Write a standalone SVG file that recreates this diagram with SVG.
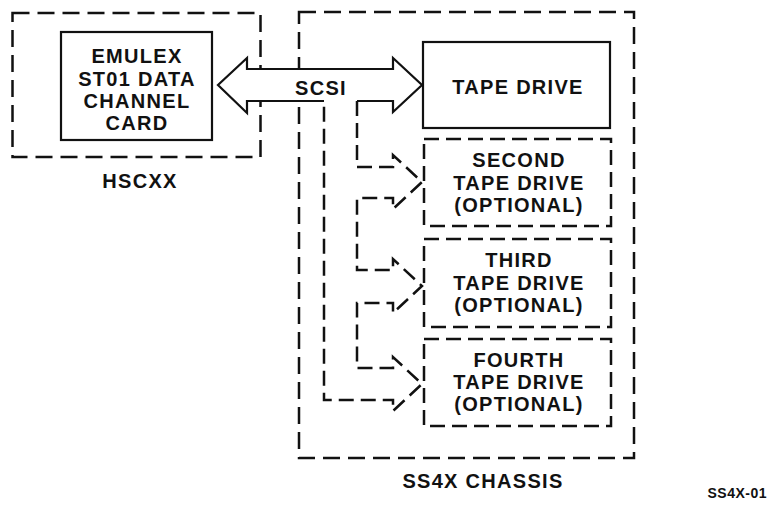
<svg xmlns="http://www.w3.org/2000/svg" width="773" height="506" viewBox="0 0 773 506">
<style>
  .t { font-family: "Liberation Sans", Arial, Helvetica, sans-serif; font-weight: bold; font-size: 20px; letter-spacing: 1.3px; fill: #111; text-anchor: middle; }
  .solid { fill: none; stroke: #111; stroke-width: 2.2; }
  .dash { fill: none; stroke: #111; stroke-width: 2.5; stroke-dasharray: 15 7; }
  .cdash { fill: none; stroke: #111; stroke-width: 2.5; stroke-dasharray: 17 8; }
</style>
<rect width="773" height="506" fill="#fff"/>
<g id="hscxx">
  <rect class="cdash" x="12.5" y="13" width="248" height="144"/>
  <text class="t" x="140" y="188">HSCXX</text>
</g>
<g id="ss4x-chassis">
  <rect class="cdash" x="299" y="12" width="335" height="446"/>
  <text class="t" x="483" y="488">SS4X CHASSIS</text>
</g>
<g id="emulex-card">
  <rect class="solid" x="61" y="32" width="151" height="108"/>
  <text class="t" x="137" y="63">EMULEX</text>
  <text class="t" x="137" y="86">ST01 DATA</text>
  <text class="t" x="137" y="108">CHANNEL</text>
  <text class="t" x="137" y="130">CARD</text>
</g>
<g id="tape-drive">
  <rect class="solid" x="423" y="42" width="187" height="86"/>
  <text class="t" x="518" y="94">TAPE DRIVE</text>
</g>
<g id="second-tape-drive">
  <rect class="dash" x="424" y="139" width="187" height="87"/>
  <text class="t" x="519" y="167">SECOND</text>
  <text class="t" x="519" y="190">TAPE DRIVE</text>
  <text class="t" x="519" y="212">(OPTIONAL)</text>
</g>
<g id="third-tape-drive">
  <rect class="dash" x="424" y="239" width="187" height="88"/>
  <text class="t" x="519" y="267">THIRD</text>
  <text class="t" x="519" y="290">TAPE DRIVE</text>
  <text class="t" x="519" y="312">(OPTIONAL)</text>
</g>
<g id="fourth-tape-drive">
  <rect class="dash" x="424" y="339" width="187" height="87"/>
  <text class="t" x="519" y="367">FOURTH</text>
  <text class="t" x="519" y="389">TAPE DRIVE</text>
  <text class="t" x="519" y="411">(OPTIONAL)</text>
</g>
<g id="connectors">
  <path fill="#fff" stroke="none" d="M218,85 L247,58 L247,69 L393,69 L393,58 L422,85 L393,112 L393,101 L357,101 L357,167 L393,167 L393,155 L422,182 L393,209 L393,198 L357,198 L357,270 L393,270 L393,259 L422,286 L393,313 L393,303 L357,303 L357,368 L393,368 L393,357 L422,384 L393,411 L393,400 L324,400 L324,101 L247,101 L247,113 Z"/>
  <path class="solid" d="M324,101 L247,101 L247,113 L218,85 L247,58 L247,69 L393,69 L393,58 L422,85 L393,112 L393,101 L357,101"/>
  <path class="dash" d="M357,101 L357,167 L393,167 L393,155 L422,182 L393,209 L393,198 L357,198 L357,270 L393,270 L393,259 L422,286 L393,313 L393,303 L357,303 L357,368 L393,368 L393,357 L422,384 L393,411 L393,400 L324,400 L324,101"/>
  <text class="t" x="321" y="95">SCSI</text>
</g>
<text class="t" x="767" y="498" style="font-size:14px;letter-spacing:0.5px;text-anchor:end">SS4X-01</text>
</svg>
